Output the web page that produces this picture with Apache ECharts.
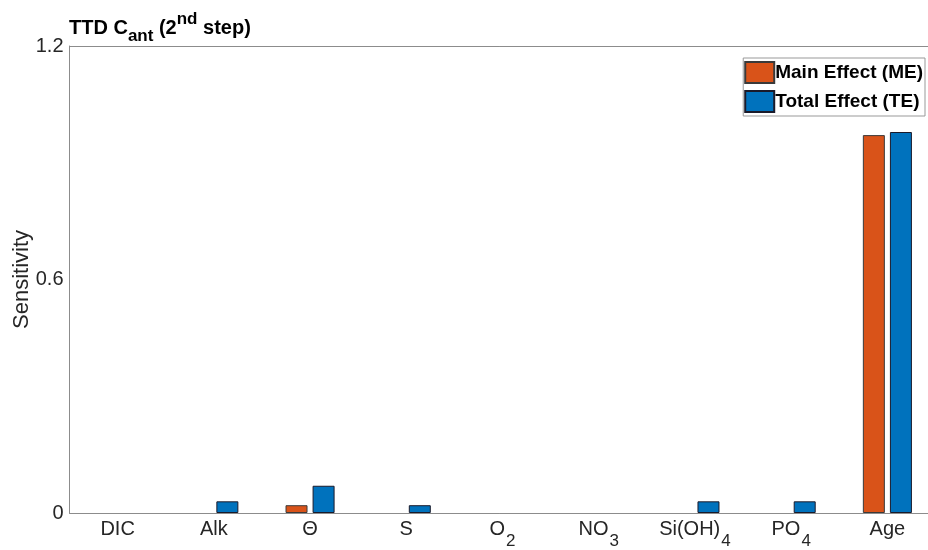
<!DOCTYPE html>
<html>
<head>
<meta charset="utf-8">
<script src="https://cdn.jsdelivr.net/npm/echarts@6/dist/echarts.min.js"></script>
<style>
  html, body { margin: 0; padding: 0; background: #fff; }
  #main { width: 928px; height: 550px; }
</style>
</head>
<body>
<div id="main"></div>
<script>
// categories and values
const categories = ['DIC', 'Alk', 'Θ', 'S', 'O2', 'NO3', 'Si(OH)4', 'PO4', 'Age'];
const mainEffect = [0, 0, 0.02, 0, 0, 0, 0, 0, 0.971];
const totalEffect = [0, 0.03, 0.07, 0.02, 0, 0, 0.03, 0.03, 0.979];
const yTicks = [0, 0.6, 1.2];

const axisGray = '#8c8c8c';
const textColor = '#262626';
const font = 'Helvetica, "Liberation Sans", Arial, sans-serif';

// trailing digits become subscripts, e.g. NO3 -> NO{s|3}
function subLabel(name) {
  const m = name.match(/^(.*?)(\d+)$/);
  if (m) return '{b|' + m[1] + '}{s|' + m[2] + '}';
  return '{b|' + name + '}';
}

// zero-height bars are not drawn in the original, so hide their outline
function barData(values) {
  return values.map(v => (v === 0 ? { value: v, itemStyle: { borderWidth: 0 } } : v));
}

const myChart = echarts.init(document.getElementById('main'));
myChart.setOption({
  animation: false,
  textStyle: { fontFamily: font },
  title: {
    text: '{b|TTD C}{sub|ant}{b| (2}{sup|nd}{b| step)}',
    left: 64,
    top: 6,
    textStyle: {
      rich: {
        b: { fontSize: 20, fontWeight: 'bold', color: '#000', fontFamily: font, verticalAlign: 'middle', lineHeight: 22 },
        sub: { fontSize: 17, fontWeight: 'bold', color: '#000', fontFamily: font, verticalAlign: 'bottom', lineHeight: 34 },
        sup: { fontSize: 17, fontWeight: 'bold', color: '#000', fontFamily: font, verticalAlign: 'top', lineHeight: 34 }
      }
    }
  },
  legend: {
    orient: 'vertical',
    right: 3,
    top: 58,
    icon: 'rect',
    backgroundColor: '#fff',
    borderColor: '#999',
    borderWidth: 1,
    padding: [3, 2, 3, 1],
    itemWidth: 29,
    itemHeight: 21,
    itemGap: 6,
    textStyle: { fontSize: 19, fontWeight: 'bold', color: '#000', fontFamily: font, padding: [0, 0, 0, -4] },
    data: ['Main Effect (ME)', 'Total Effect (TE)']
  },
  grid: { left: 69.5, width: 866, top: 46, bottom: 37, outerBoundsMode: 'none', containLabel: false },
  xAxis: [
    {
      type: 'category',
      data: categories,
      axisLine: { lineStyle: { color: axisGray, width: 1 } },
      axisTick: { show: false },
      axisLabel: {
        margin: 6,
        interval: 0,
        formatter: subLabel,
        rich: {
          b: { fontSize: 20, color: textColor, fontFamily: font, verticalAlign: 'top' },
          s: { fontSize: 17, color: textColor, fontFamily: font, verticalAlign: 'bottom', lineHeight: 31, padding: [0, 0, 0, 1] }
        }
      }
    },
    {
      type: 'category',
      position: 'top',
      data: categories,
      axisLine: { lineStyle: { color: axisGray, width: 1 } },
      axisTick: { show: false },
      axisLabel: { show: false }
    }
  ],
  yAxis: {
    type: 'value',
    min: yTicks[0],
    max: yTicks[yTicks.length - 1],
    interval: 0.6,
    name: 'Sensitivity',
    nameLocation: 'middle',
    nameGap: 37,
    nameMoveOverlap: false,
    nameTextStyle: { fontSize: 22, color: textColor, fontFamily: font },
    axisLine: { show: true, lineStyle: { color: axisGray, width: 1 } },
    axisTick: { show: false },
    splitLine: { show: false },
    axisLabel: {
      fontSize: 20,
      color: textColor,
      margin: 6,
      formatter: v => (Math.abs(v) < 1e-9 ? '0' : String(Math.round(v * 10) / 10))
    }
  },
  series: [
    {
      name: 'Main Effect (ME)',
      type: 'bar',
      data: barData(mainEffect),
      barWidth: 22,
      barGap: '23%',
      itemStyle: { color: '#D95319', borderColor: '#3a3a3a', borderWidth: 1 }
    },
    {
      name: 'Total Effect (TE)',
      type: 'bar',
      data: barData(totalEffect),
      barWidth: 22,
      itemStyle: { color: '#0072BD', borderColor: '#1a1a2a', borderWidth: 1 }
    }
  ]
});
</script>
</body>
</html>
